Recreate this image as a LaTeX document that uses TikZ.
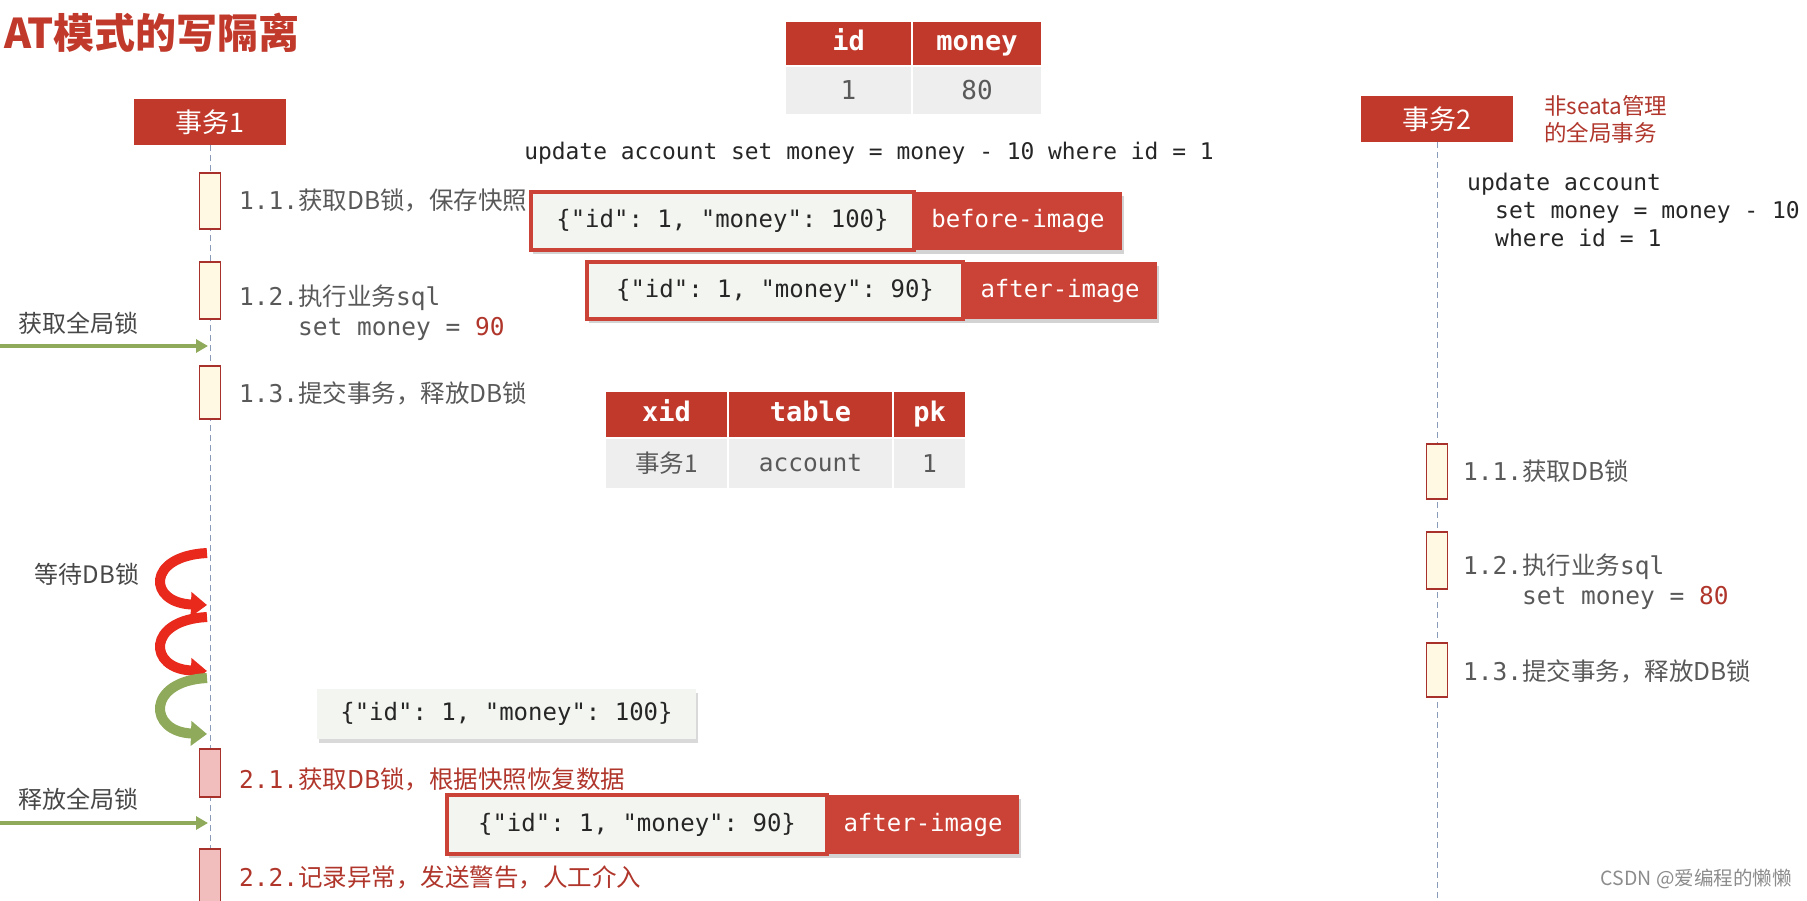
\documentclass[tikz,border=0pt]{standalone}
\usepackage{fontspec}
\setmonofont{DejaVu Sans Mono}
\newfontfamily\cjk{Noto Sans CJK SC}
\usetikzlibrary{positioning,arrows.meta,shadows}
\definecolor{atred}{HTML}{C0392B}
\definecolor{tagred}{HTML}{CB4236}
\definecolor{txtgray}{HTML}{595959}
\definecolor{txtred}{HTML}{B0362C}
\definecolor{actfill}{HTML}{FFF8E3}
\definecolor{actpink}{HTML}{F2BDBD}
\definecolor{actdraw}{HTML}{A8322B}
\definecolor{lockgreen}{HTML}{8EAA5A}
\definecolor{waitred}{HTML}{E8291C}
\definecolor{jsonbg}{HTML}{F3F6F0}
\definecolor{cellbg}{HTML}{EEEEEE}
\definecolor{lifeblue}{HTML}{8A9CBA}
\newcommand\fsz[2]{\fontsize{#1}{#2}\selectfont}
\newcommand\no[1]{{\ttfamily #1}}

\begin{document}
\begin{tikzpicture}[
  x=1pt, y=-1pt,
  actor/.style={
    fill=atred,
    text=white,
    minimum width=152,
    minimum height=46,
    font=\cjk\fsz{27}{30}
  },
  act/.style={
    draw=actdraw,
    fill=#1,
    line width=1.5pt,
    minimum width=21,
    inner sep=0pt
  },
  lifeline/.style={draw=lifeblue, dash pattern=on 6pt off 4pt, line width=1pt},
  steptext/.style={anchor=west, align=left, text=#1, font=\cjk\fsz{24.5}{30}, inner sep=0pt},
  thead/.style={fill=atred, draw=white, line width=1.5pt, text=white, outer sep=0pt, inner sep=0pt,
    text height=18pt, text depth=5pt, font=\ttfamily\bfseries\fsz{27}{30}},
  tcell/.style={fill=cellbg, draw=white, line width=1.5pt, text=txtgray, outer sep=0pt, inner sep=0pt,
    font=\ttfamily\fsz{26}{30}},
  jsonbox/.style={
    fill=jsonbg,
    draw=tagred,
    line width=4pt,
    outer sep=0pt,
    text=black!85,
    font=\ttfamily\fsz{24}{28},
    drop shadow={opacity=.35, shadow xshift=2pt, shadow yshift=-4pt}
  },
  imgtag/.style={
    fill=tagred,
    text=white,
    outer sep=0pt,
    font=\ttfamily\fsz{24}{28},
    drop shadow={opacity=.35, shadow xshift=2pt, shadow yshift=-4pt}
  },
  plainjson/.style={
    fill=jsonbg,
    text=black!85,
    font=\ttfamily\fsz{24}{28},
    drop shadow={opacity=.3, shadow xshift=2pt, shadow yshift=-4pt}
  },
  lockarrow/.style={-{Triangle[length=12pt,width=13pt]}, draw=lockgreen, line width=4.5pt},
  waitarrow/.style={-{Triangle[length=16pt,width=24pt]}, draw=#1, line width=10pt},
  sidelabel/.style={font=\cjk\fsz{24}{28}, text=black!72}
]

\path[use as bounding box] (0,0) rectangle (1807,900);

\node[anchor=west, text=atred, font=\cjk\bfseries\fsz{41}{46}, inner sep=0pt] (title) at (4,33) {AT模式的写隔离};

\node[actor] (tx1) at (210,122) {事务1};
\node[actor] (tx2) at (1437,119) {事务2};
\node[anchor=west, align=left, text=txtred, font=\cjk\fsz{22.5}{27}, inner sep=0pt] (tx2note) at (1544,119) {非seata管理\\的全局事务};

\coordinate (end1) at (210,900);
\coordinate (end2) at (1437,900);
\draw[lifeline] (tx1.south) -- (end1);
\draw[lifeline] (tx2.south) -- (end2);

\node[thead, minimum width=127, minimum height=45] (hid) at (848.5,43.5) {id};
\node[thead, minimum width=130, minimum height=45, right=0pt of hid] (hmoney) {money};
\node[tcell, minimum width=127, minimum height=49, below=0pt of hid] (vid) {1};
\node[tcell, minimum width=130, minimum height=49, below=0pt of hmoney] (vmoney) {80};

\node[font=\ttfamily\fsz{22.9}{27}, text=black!85] (sql1) at (869,153) {update account set money = money - 10 where id = 1};
\node[anchor=west, align=left, inner sep=0pt, font=\ttfamily\fsz{23}{28}, text=black!85] (sql2) at (1467,210)
  {update account\\\hspace*{28pt}set money = money - 10\\\hspace*{28pt}where id = 1};

\node[act=actfill, minimum height=56] (a11) at (210,201) {};
\node[act=actfill, minimum height=57] (a12) at (210,290.5) {};
\node[act=actfill, minimum height=53] (a13) at (210,392.5) {};
\node[act=actpink, minimum height=48] (a21) at (210,773) {};
\node[act=actpink, minimum height=56] (a22) at (210,877) {};

\node[act=actfill, minimum height=55] (b11) at (1437,471.5) {};
\node[act=actfill, minimum height=57] (b12) at (1437,560.5) {};
\node[act=actfill, minimum height=54] (b13) at (1437,670) {};

\node[steptext=txtgray] (s11) at (239,200) {\no{1.1.}获取DB锁，保存快照};
\node[steptext=txtgray] (s12) at (239,313) {\no{1.2.}执行业务\no{sql}\\\phantom{\no{1.2.}}\no{set money = \textcolor{txtred}{90}}};
\node[steptext=txtgray] (s13) at (239,393) {\no{1.3.}提交事务，释放DB锁};
\node[steptext=txtred] (s21) at (239,779) {\no{2.1.}获取DB锁，根据快照恢复数据};
\node[steptext=txtred] (s22) at (239,877) {\no{2.2.}记录异常，发送警告，人工介入};

\node[steptext=txtgray] (r11) at (1463,471) {\no{1.1.}获取DB锁};
\node[steptext=txtgray] (r12) at (1463,582) {\no{1.2.}执行业务\no{sql}\\\phantom{\no{1.2.}}\no{set money = \textcolor{txtred}{80}}};
\node[steptext=txtgray] (r13) at (1463,671) {\no{1.3.}提交事务，释放DB锁};

\node[jsonbox, minimum width=383, minimum height=58] (beforejson) at (722.5,221) {\{"id": 1, "money": 100\}};
\node[imgtag, minimum width=208, minimum height=58, right=0pt of beforejson] (beforetag) {before-image};

\node[jsonbox, minimum width=376, minimum height=57] (afterjson) at (775,290.5) {\{"id": 1, "money": 90\}};
\node[imgtag, minimum width=194, minimum height=57, right=0pt of afterjson] (aftertag) {after-image};

\node[thead, minimum width=123, minimum height=47] (hxid) at (666.5,414.5) {xid};
\node[thead, minimum width=165, minimum height=47, right=0pt of hxid] (htable) {table};
\node[thead, minimum width=73, minimum height=47, right=0pt of htable] (hpk) {pk};
\node[tcell, minimum width=123, minimum height=51, below=0pt of hxid, font=\cjk\fsz{24.5}{28}] (vxid) {事务1};
\node[tcell, minimum width=165, minimum height=51, below=0pt of htable, font=\ttfamily\fsz{24.5}{28}] (vtable) {account};
\node[tcell, minimum width=73, minimum height=51, below=0pt of hpk, font=\ttfamily\fsz{24.5}{28}] (vpk) {1};

\node[sidelabel] (getlock) at (78,323) {获取全局锁};
\coordinate (getfrom) at (0,346);
\coordinate (getto) at (208,346);
\draw[lockarrow] (getfrom) -- (getto);

\node[sidelabel] (waitlock) at (87,574) {等待DB锁};
\coordinate (w1a) at (207,553);
\coordinate (w1b) at (207,605);
\coordinate (w2a) at (207,617);
\coordinate (w2b) at (207,671);
\coordinate (w3a) at (207,678);
\coordinate (w3b) at (207,734);
\draw[waitarrow=waitred] (w1a) .. controls (146,556) and (148,603) .. (w1b);
\draw[waitarrow=waitred] (w2a) .. controls (146,620) and (148,669) .. (w2b);
\draw[waitarrow=lockgreen] (w3a) .. controls (146,681) and (148,732) .. (w3b);

\node[plainjson, minimum width=379, minimum height=50] (undojson) at (506.5,714) {\{"id": 1, "money": 100\}};

\node[sidelabel] (freelock) at (78,799) {释放全局锁};
\coordinate (freefrom) at (0,823);
\coordinate (freeto) at (208,823);
\draw[lockarrow] (freefrom) -- (freeto);

\node[jsonbox, minimum width=380, minimum height=59] (restorejson) at (637,824.5) {\{"id": 1, "money": 90\}};
\node[imgtag, minimum width=192, minimum height=59, right=0pt of restorejson] (restoretag) {after-image};

\node[anchor=east, text=black!45, font=\cjk\fsz{19.5}{24}, inner sep=0pt] (mark) at (1792,879) {CSDN @爱编程的懒懒};

\end{tikzpicture}
\end{document}
